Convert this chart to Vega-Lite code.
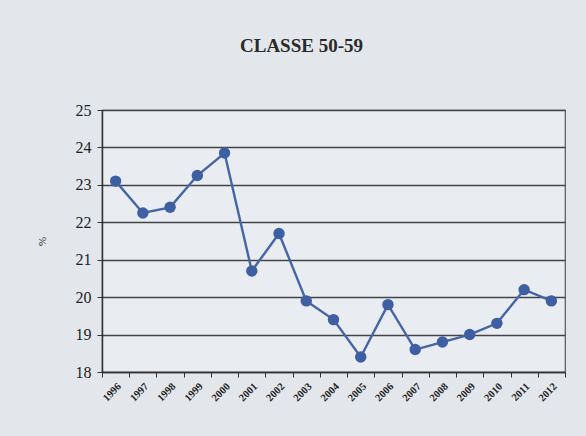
{
  "$schema": "https://vega.github.io/schema/vega-lite/v6.json",
  "autosize": "none",
  "width": 463,
  "height": 262,
  "padding": {"left": 102, "top": 110, "right": 21, "bottom": 64},
  "background": "#e3e7ec",
  "title": {
    "text": "CLASSE 50-59",
    "font": "Liberation Serif",
    "fontSize": 19,
    "fontWeight": "bold",
    "color": "#2a2a2a",
    "offset": 46,
    "dx": -32
  },
  "config": {
    "view": {"fill": "#e9edf2", "stroke": "#555555", "strokeWidth": 1.2},
    "axis": {"labelFont": "Liberation Serif", "titleFont": "Liberation Serif", "labelColor": "#222222", "titleColor": "#222222", "domainColor": "#333333", "tickColor": "#333333"}
  },
  "data": {
    "values": [
      {"year": "1996", "pct": 23.1},
      {"year": "1997", "pct": 22.25},
      {"year": "1998", "pct": 22.4},
      {"year": "1999", "pct": 23.25},
      {"year": "2000", "pct": 23.85},
      {"year": "2001", "pct": 20.7},
      {"year": "2002", "pct": 21.7},
      {"year": "2003", "pct": 19.9},
      {"year": "2004", "pct": 19.4},
      {"year": "2005", "pct": 18.4},
      {"year": "2006", "pct": 19.8},
      {"year": "2007", "pct": 18.6},
      {"year": "2008", "pct": 18.8},
      {"year": "2009", "pct": 19.0},
      {"year": "2010", "pct": 19.3},
      {"year": "2011", "pct": 20.2},
      {"year": "2012", "pct": 19.9}
    ]
  },
  "mark": {"type": "line", "color": "#4565a6", "strokeWidth": 2.4, "point": {"filled": true, "size": 130, "color": "#3f5fa3"}},
  "encoding": {
    "x": {
      "field": "year",
      "type": "ordinal",
      "scale": {"paddingInner": 0, "paddingOuter": 0},
      "axis": {"title": null, "labelAngle": -45, "labelFontSize": 10.5, "labelFontWeight": "bold", "labelAlign": "right", "labelBaseline": "top", "tickBand": "extent", "tickSize": 5, "grid": false, "domainWidth": 1.5, "labelPadding": 4}
    },
    "y": {
      "field": "pct",
      "type": "quantitative",
      "scale": {"domain": [18, 25], "nice": false, "zero": false},
      "axis": {"title": "%", "titleAngle": -90, "titleFontSize": 11, "titleFontWeight": "normal", "titlePadding": 28, "values": [18, 19, 20, 21, 22, 23, 24, 25], "labelFontSize": 16, "tickSize": 5, "gridColor": "#444444", "gridWidth": 1.3, "domainWidth": 1.5, "labelPadding": 6}
    }
  }
}
